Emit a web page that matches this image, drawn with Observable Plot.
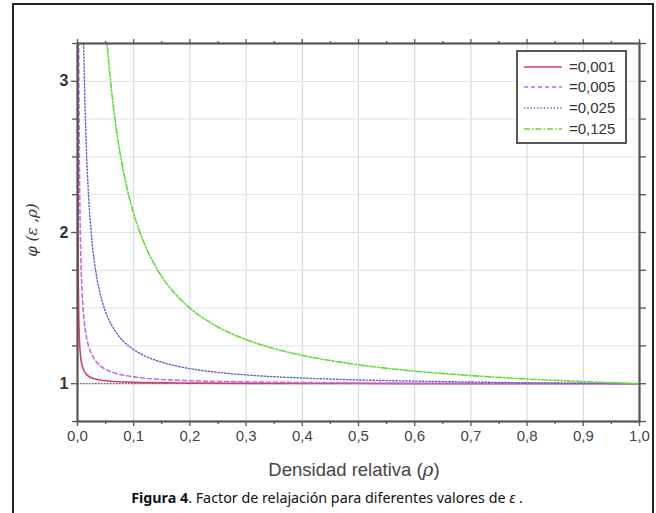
<!DOCTYPE html>
<html>
<head>
<meta charset="utf-8">
<script src="https://cdn.jsdelivr.net/npm/d3@7"></script>
<script src="https://cdn.jsdelivr.net/npm/@observablehq/plot@0.6"></script>
<style>
  html, body { margin: 0; padding: 0; background: #fff; }
  #wrap { position: relative; width: 656px; height: 513px; overflow: hidden; background: #fff; }
  #frame { position: absolute; left: 12px; top: 3px; width: 638px; height: 520px; border: 2px solid #222; }
  #chart { position: absolute; left: 0; top: 0; }
  #legend { position: absolute; left: 516px; top: 50px; width: 107px; height: 90px; border: 2px solid #555; background: #fff;
            font-family: "Liberation Sans", Arial, sans-serif; font-size: 15px; color: #333; }
  #legend .row { position: absolute; left: 0; height: 20px; width: 107px; }
  #legend svg { position: absolute; left: 5px; top: 4px; }
  #legend span { position: absolute; left: 51px; top: 0px; line-height: 20px; }
  #ylab { position: absolute; left: 32px; top: 230px; transform: translate(-50%,-50%) rotate(-90deg);
          font-family: "DejaVu Serif", "Liberation Serif", serif; font-style: italic; font-size: 15px; color: #333; white-space: nowrap; }
  #xlab { position: absolute; left: 354px; top: 470px; transform: translate(-50%,-50%);
          font-family: "Liberation Sans", Arial, sans-serif; font-size: 18.5px; color: #444; white-space: nowrap; }
  #caption { position: absolute; left: 327px; top: 497px; transform: translate(-50%,-50%);
          font-family: "Noto Sans", "Open Sans", sans-serif; font-size: 14.3px; color: #111; white-space: nowrap; }
</style>
</head>
<body>
<div id="wrap">
  <div id="frame"></div>
  <div id="chart"></div>
  <div id="ylab">φ (ε ,ρ)</div>
  <div id="xlab">Densidad relativa (<i style="font-family:'DejaVu Serif',serif">ρ</i>)</div>
  <div id="caption"><b>Figura 4</b>. Factor de relajación para diferentes valores de <i>ε</i> .</div>
  <div id="legend"></div>
</div>
<script>
// ---- data ----
const seriesLabels = ["=0,001", "=0,005", "=0,025", "=0,125"];

const rhoA = [0.0004, 0.0005, 0.0006, 0.0008, 0.001, 0.0015, 0.002, 0.003, 0.004, 0.005, 0.006, 0.008, 0.01, 0.015, 0.02, 0.03, 0.05, 0.1, 0.2, 0.3, 0.5, 0.7, 1.0];
const phiA = [3.499, 2.999, 2.666, 2.249, 1.999, 1.666, 1.499, 1.332, 1.249, 1.199, 1.166, 1.124, 1.099, 1.066, 1.049, 1.032, 1.019, 1.009, 1.004, 1.002, 1.001, 1.0004, 1.0];

const rhoB = [0.002, 0.0025, 0.003, 0.004, 0.005, 0.006, 0.008, 0.01, 0.012, 0.015, 0.02, 0.025, 0.03, 0.04, 0.05, 0.06, 0.08, 0.1, 0.15, 0.2, 0.3, 0.4, 0.5, 0.7, 1.0];
const phiB = [3.495, 2.995, 2.662, 2.245, 1.995, 1.828, 1.62, 1.495, 1.412, 1.328, 1.245, 1.195, 1.162, 1.12, 1.095, 1.078, 1.058, 1.045, 1.028, 1.02, 1.012, 1.0075, 1.005, 1.002, 1.0];

const rhoC = [0.008, 0.01, 0.012, 0.015, 0.02, 0.025, 0.03, 0.035, 0.04, 0.05, 0.06, 0.07, 0.08, 0.1, 0.12, 0.15, 0.2, 0.25, 0.3, 0.4, 0.5, 0.6, 0.7, 0.8, 0.9, 1.0];
const phiC = [4.1, 3.475, 3.058, 2.642, 2.225, 1.975, 1.808, 1.689, 1.6, 1.475, 1.392, 1.332, 1.2875, 1.225, 1.183, 1.142, 1.1, 1.075, 1.058, 1.0375, 1.025, 1.017, 1.011, 1.006, 1.003, 1.0];

const rhoD = [0.05, 0.055, 0.06, 0.07, 0.08, 0.09, 0.1, 0.11, 0.12, 0.14, 0.16, 0.18, 0.2, 0.25, 0.3, 0.35, 0.4, 0.45, 0.5, 0.6, 0.7, 0.8, 0.9, 1.0];
const phiD = [3.375, 3.148, 2.958, 2.661, 2.4375, 2.264, 2.125, 2.011, 1.917, 1.768, 1.656, 1.569, 1.5, 1.375, 1.2917, 1.232, 1.1875, 1.153, 1.125, 1.083, 1.054, 1.031, 1.014, 1.0];

const xTicks = [0, 0.1, 0.2, 0.3, 0.4, 0.5, 0.6, 0.7, 0.8, 0.9, 1.0];
const xMinor = [0.05, 0.15, 0.25, 0.35, 0.45, 0.55, 0.65, 0.75, 0.85, 0.95];
const yTicks = [1, 2, 3];
const yMinor = [0.75, 1.25, 1.5, 1.75, 2.25, 2.5, 2.75, 3.25];

// ---- styles ----
const styles = [
  {stroke: "#d83a6e", dash: null, width: 1.6},
  {stroke: "#c46ae8", dash: "4,3", width: 1.6},
  {stroke: "#5b5bd0", dash: "1.3,2", width: 1.4},
  {stroke: "#62dc33", dash: "6,2,1.5,2", width: 1.6}
];
const pairs = [[rhoA, phiA], [rhoB, phiB], [rhoC, phiC], [rhoD, phiD]];
const tables = pairs.map(([r, p]) => r.map((x, i) => ({x, y: p[i]})));

const fmt = d => d.toFixed(1).replace(".", ",");
const axisColor = "#555";

const plot = Plot.plot({
  width: 656,
  height: 460,
  marginLeft: 77,
  marginRight: 17,
  marginTop: 43,
  marginBottom: 39,
  x: {domain: [0, 1]},
  y: {domain: [0.75, 3.25]},
  style: {fontFamily: "'Liberation Sans', Arial, sans-serif", fontSize: "15px", color: "#333", background: "transparent"},
  marks: [
    Plot.gridX(xTicks, {stroke: "#c9d6df", strokeOpacity: 1, strokeWidth: 1}),
    Plot.gridY([...yTicks, ...yMinor], {stroke: "#d9e2e8", strokeOpacity: 1, strokeWidth: 1}),
    Plot.ruleY([1], {stroke: "#444", strokeDasharray: "1.5,1.5", strokeWidth: 1}),
    ...tables.map((t, i) => Plot.line(t, {
      x: "x", y: "y", clip: true, curve: "monotone-x",
      stroke: styles[i].stroke, strokeWidth: styles[i].width,
      strokeDasharray: styles[i].dash
    })),
    Plot.frame({stroke: axisColor, strokeWidth: 2.2}),
    Plot.axisX(xTicks, {anchor: "bottom", tickSize: 5, tickPadding: 4, tickFormat: fmt, stroke: axisColor, strokeWidth: 1.3, fill: "#444", fontSize: 15, label: null}),
    Plot.axisX(xMinor, {anchor: "bottom", tickSize: 3, text: null, stroke: axisColor, strokeWidth: 1.3, label: null}),
    Plot.axisX(xTicks, {anchor: "top", tickSize: 5, text: null, stroke: axisColor, strokeWidth: 1.3, label: null}),
    Plot.axisX(xMinor, {anchor: "top", tickSize: 3, text: null, stroke: axisColor, strokeWidth: 1.3, label: null}),
    Plot.axisY(yTicks, {anchor: "left", tickSize: 6, tickPadding: 3, tickFormat: d => String(d), stroke: axisColor, strokeWidth: 1.3, fill: "#333", fontSize: 16, fontWeight: "bold", label: null}),
    Plot.axisY(yMinor, {anchor: "left", tickSize: 5, text: null, stroke: axisColor, strokeWidth: 1.3, label: null}),
    Plot.axisY([...yTicks, ...yMinor], {anchor: "right", tickSize: 6, text: null, stroke: axisColor, strokeWidth: 1.3, label: null})
  ]
});
document.getElementById("chart").appendChild(plot);

// legend
const leg = document.getElementById("legend");
const rowsTop = [5, 25, 46, 67];
seriesLabels.forEach((lab, i) => {
  const row = document.createElement("div");
  row.className = "row";
  row.style.top = rowsTop[i] + "px";
  const s = styles[i];
  row.innerHTML = `<svg width="40" height="12"><line x1="1" y1="6" x2="39" y2="6" stroke="${s.stroke}" stroke-width="${s.width}" ${s.dash ? `stroke-dasharray="${s.dash}"` : ""}/></svg><span>${lab}</span>`;
  leg.appendChild(row);
});
</script>
</body>
</html>
